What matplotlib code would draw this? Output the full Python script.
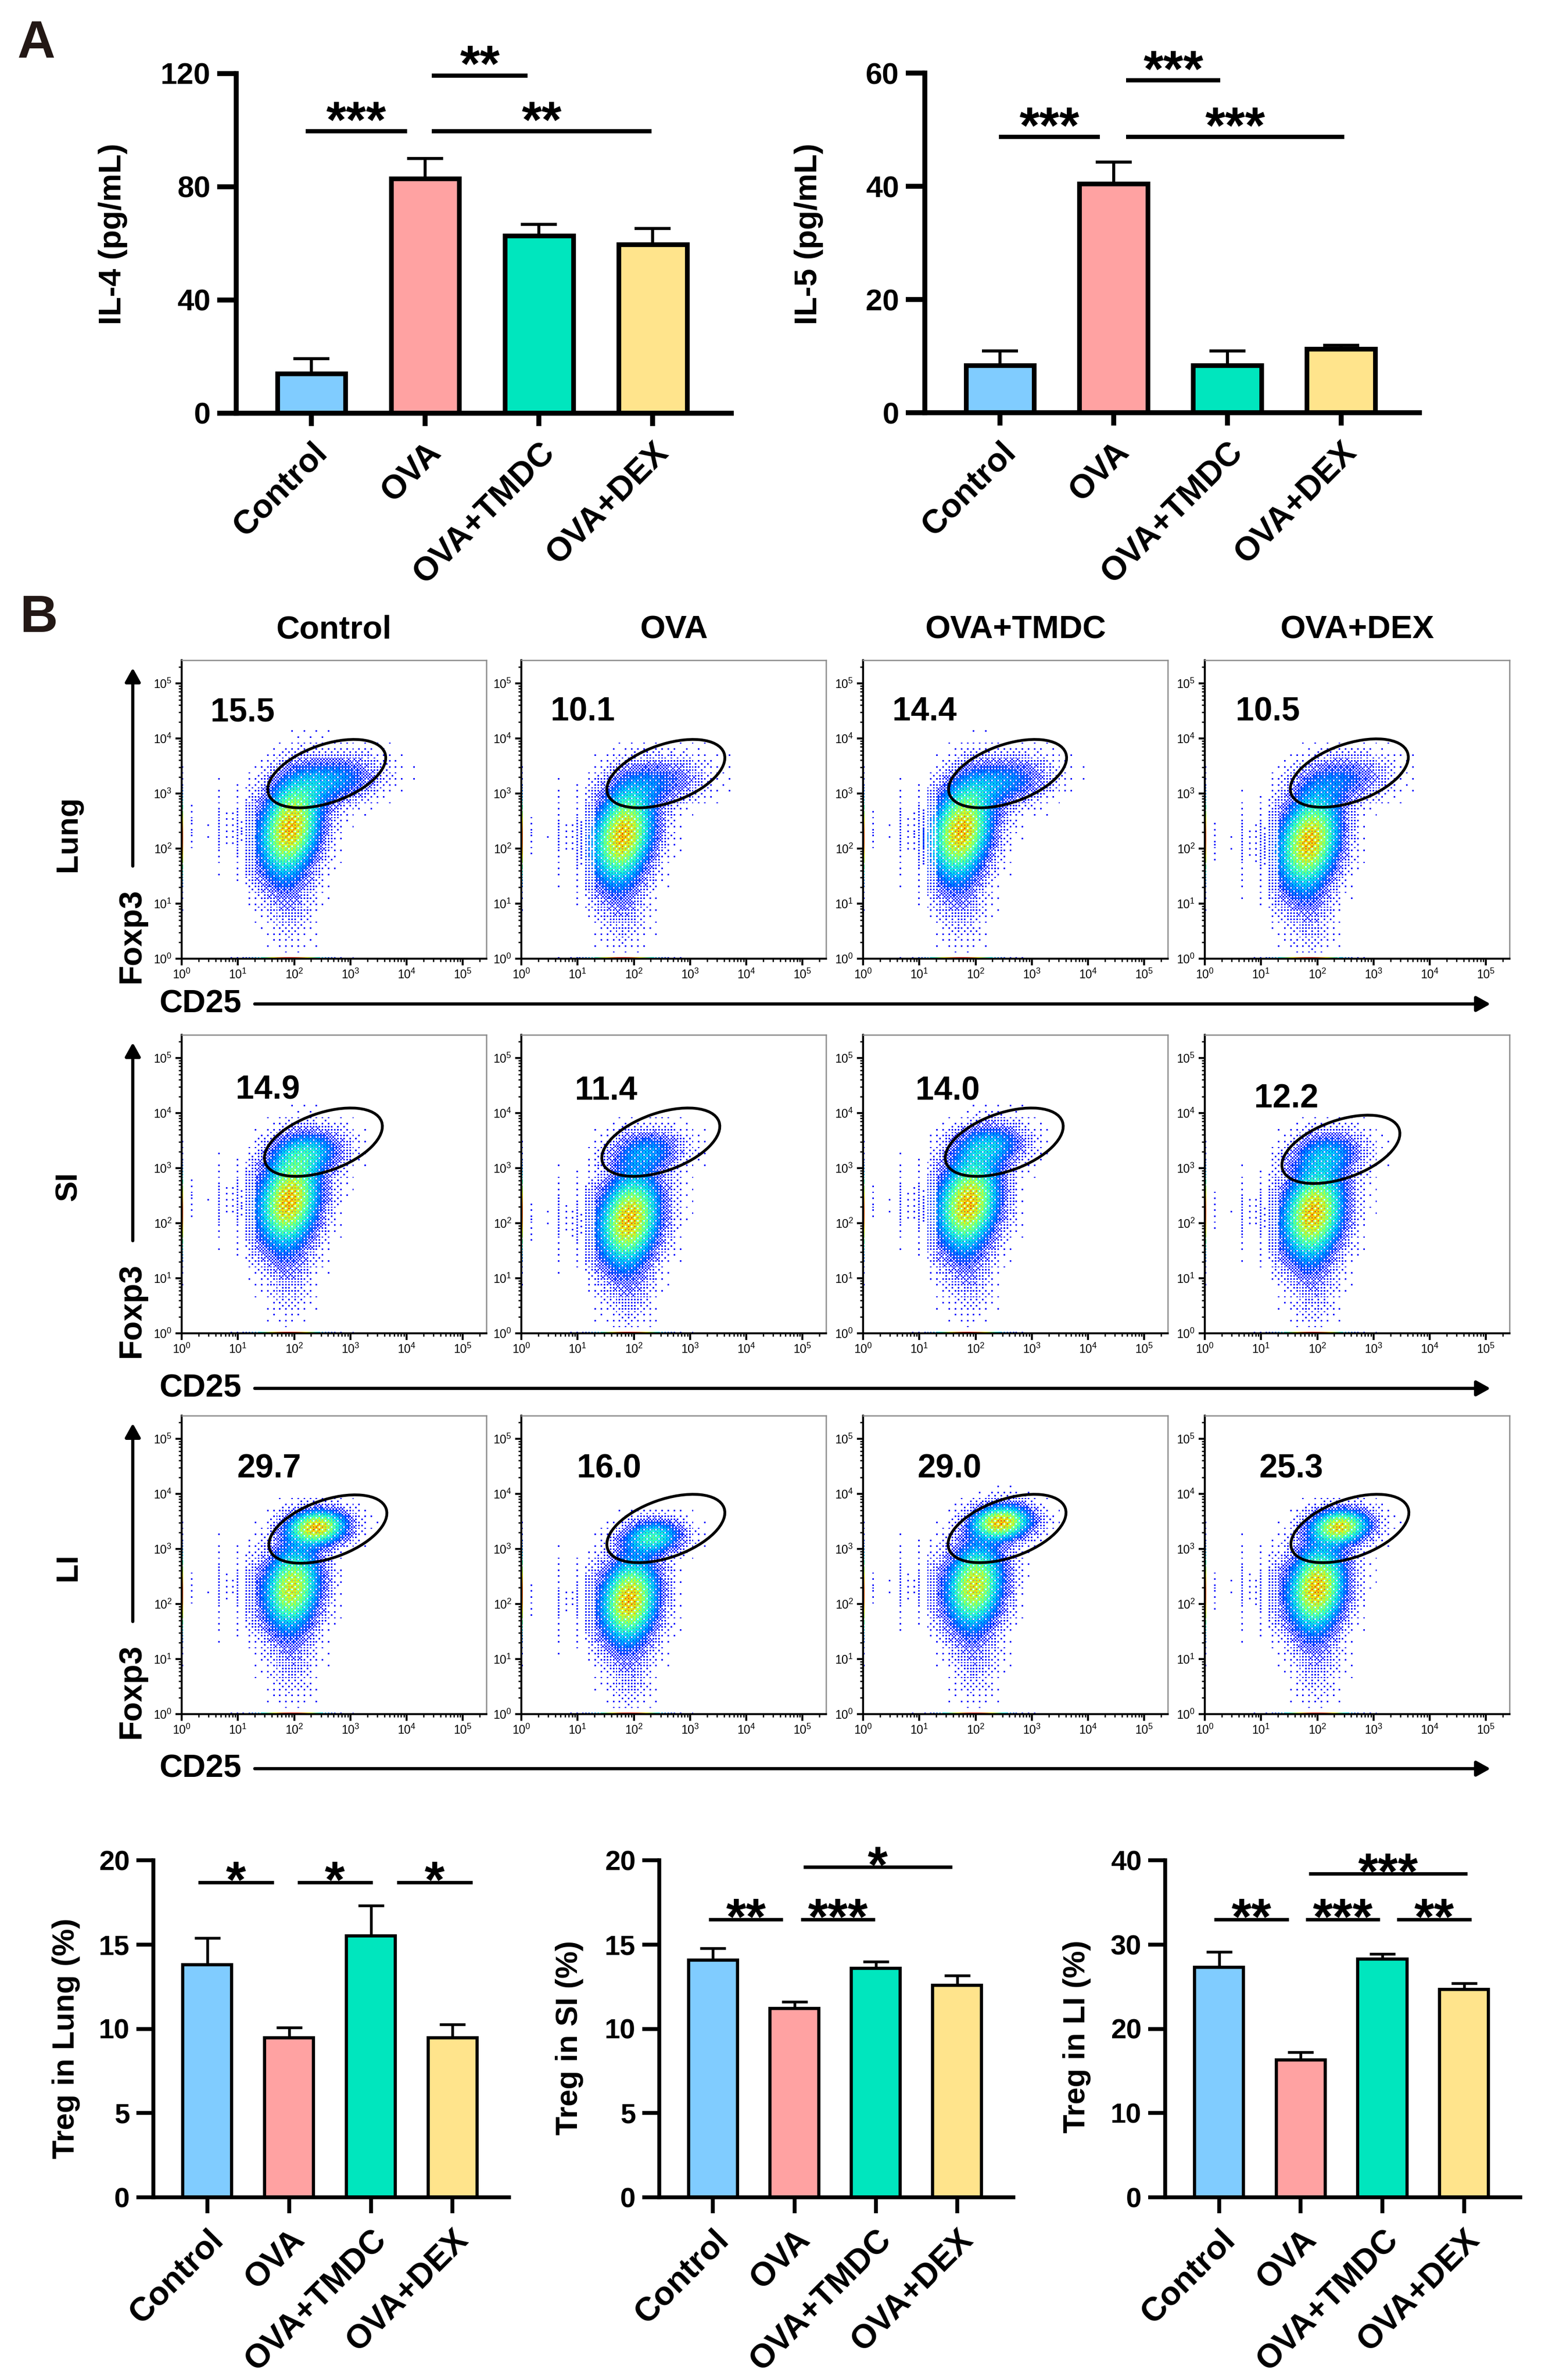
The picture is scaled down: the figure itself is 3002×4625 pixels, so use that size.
import numpy as np
import matplotlib
matplotlib.use('Agg')
import matplotlib.pyplot as plt
from matplotlib.patches import Ellipse
from matplotlib import rcParams

rcParams['font.family'] = ['Liberation Sans', 'DejaVu Sans']
rcParams['font.weight'] = 'bold'
rcParams['mathtext.default'] = 'regular'

W, H, DPI = 3002, 4625, 300

# ---------------- data ----------------
groups = ['Control', 'OVA', 'OVA+TMDC', 'OVA+DEX']
bar_colors = ['#80CCFF', '#FFA2A2', '#00E6BE', '#FFE48C']

il4_mean = [14.0, 83.0, 62.7, 59.6]
il4_sd = [5.3, 7.0, 4.0, 5.7]
il5_mean = [8.4, 40.5, 8.4, 11.3]
il5_sd = [2.5, 3.8, 2.5, 0.6]
lung_mean = [13.8, 9.47, 15.5, 9.47]
lung_sd = [1.6, 0.6, 1.8, 0.8]
si_mean = [14.07, 11.2, 13.6, 12.57]
si_sd = [0.7, 0.4, 0.4, 0.58]
li_mean = [27.3, 16.3, 28.3, 24.7]
li_sd = [1.8, 0.9, 0.6, 0.7]

# significance bars: (x start, x end, y, stars), x in group units
il4_sig = [(-0.05, 0.84, 99.6, '***'), (1.06, 1.90, 119.3, '**'), (1.06, 2.99, 99.6, '**')]
il5_sig = [(-0.01, 0.88, 48.7, '***'), (1.11, 1.94, 58.7, '***'), (1.11, 3.03, 48.7, '***')]
lung_sig = [(-0.11, 0.81, 18.7, '*'), (1.10, 2.02, 18.7, '*'), (2.32, 3.24, 18.7, '*')]
si_sig = [(-0.05, 0.86, 16.5, '**'), (1.08, 1.99, 16.5, '***'), (1.11, 2.94, 19.6, '*')]
li_sig = [(-0.06, 0.85, 33.0, '**'), (1.06, 1.97, 33.0, '***'), (2.18, 3.09, 33.0, '**'),
          (1.10, 3.04, 38.4, '***')]

# flow cytometry (log10 units)
tissues = ['Lung', 'SI', 'LI']
flow_pct = [[15.5, 10.1, 14.4, 10.5],
            [14.9, 11.4, 14.0, 12.2],
            [29.7, 16.0, 29.0, 25.3]]
main_center = [[(1.93, 2.37), (1.81, 2.24), (1.75, 2.32), (1.86, 2.13)],
               [(1.91, 2.41), (1.92, 2.07), (1.87, 2.36), (1.93, 2.18)],
               [(1.96, 2.29), (1.92, 2.07), (1.98, 2.33), (1.99, 2.29)]]
treg_center = [[(2.64, 3.23), (2.40, 3.20), (2.45, 3.20), (2.40, 3.24)],
               [(2.23, 3.28), (2.21, 3.29), (2.22, 3.40), (2.16, 3.25)],
               [(2.40, 3.39), (2.33, 3.21), (2.45, 3.48), (2.40, 3.40)]]
main_spread = [(0.31, 0.50, 0.25), (0.31, 0.48, 0.20), (0.29, 0.44, 0.15)]
treg_spread = [(0.46, 0.25, 0.20), (0.36, 0.23, 0.15), (0.30, 0.18, 0.10)]
gate_center = [[(2.58, 3.36), (2.57, 3.36), (2.57, 3.36), (2.57, 3.37)],
               [(2.52, 3.47), (2.48, 3.47), (2.51, 3.47), (2.42, 3.34)],
               [(2.60, 3.36), (2.57, 3.37), (2.56, 3.37), (2.58, 3.37)]]
pct_pos = [[(0.51, 4.47), (0.52, 4.48), (0.52, 4.48), (0.55, 4.48)],
           [(0.96, 4.41), (0.95, 4.40), (0.93, 4.40), (0.88, 4.26)],
           [(0.99, 4.45), (0.99, 4.45), (0.97, 4.45), (0.97, 4.45)]]
stripe_pos = [0.19, 0.48, 0.66, 0.79, 0.90, 0.99, 1.07, 1.14, 1.20, 1.26]

# ---------------- layout (pixels) ----------------
flow_left = [353, 1013, 1677, 2341]
flow_top = [1283, 2011, 2751]
FLOW_W, FLOW_H = 592, 580
cd25_y = [1951, 2698, 3437]
row_label_y = [1620, 2305, 3045]

LMAX = np.log10(262144)
GATE_W, GATE_H, GATE_ANGLE = 2.2, 1.05, 20

fig = plt.figure(figsize=(W / DPI, H / DPI), dpi=DPI)


def add_px_axes(x0, y0, x1, y1):
    return fig.add_axes([x0 / W, 1 - y1 / H, (x1 - x0) / W, (y1 - y0) / H])


def bar_panel(box, mean, sd, ymax, ystep, sig, st):
    ax = add_px_axes(*box)
    x = np.arange(len(groups))
    ax.errorbar(x, mean, yerr=[np.zeros(len(sd)), sd], fmt='none', ecolor='black',
                elinewidth=st['err'], capsize=st['cap'], capthick=st['err'], zorder=2)
    ax.bar(x, mean, width=0.6, color=bar_colors, edgecolor='black', linewidth=st['edge'], zorder=3)
    ax.set_xlim(-0.66, 3.69)
    ax.set_ylim(0, ymax)
    ax.set_yticks(np.arange(0, ymax + 0.1, ystep))
    ax.set_xticks(x)
    ax.set_xticklabels(groups, rotation=45, ha='right', va='top', rotation_mode='anchor',
                       fontsize=15.5)
    for s in ['top', 'right']:
        ax.spines[s].set_visible(False)
    for s in ['left', 'bottom']:
        ax.spines[s].set_linewidth(st['spine'])
        ax.spines[s].set_zorder(4)
    ax.tick_params(axis='y', length=st['ytick'], width=st['spine'], labelsize=st['tick'], pad=3)
    ax.tick_params(axis='x', length=st['xtick'], width=st['spine'], pad=5)
    for x1, x2, y, lab in sig:
        ax.plot([x1, x2], [y, y], color='black', lw=st['sig'], clip_on=False,
                solid_capstyle='butt')
        ax.annotate(lab, xy=((x1 + x2) / 2, y), xytext=(0, st['gap']),
                    textcoords='offset points', ha='center', va='baseline',
                    fontsize=st['star'], annotation_clip=False)
    return ax


style_a = dict(err=1.4, cap=8.5, edge=2.2, spine=2.3, ytick=9, xtick=6, tick=14,
               sig=2.0, star=24, gap=-2.7)
style_c = dict(err=1.3, cap=6.0, edge=1.5, spine=1.8, ytick=8, xtick=7.4, tick=13,
               sig=1.6, star=24, gap=-7.0)

bar_panel((459, 143, 1421, 803), il4_mean, il4_sd, 120, 40, il4_sig, style_a)
bar_panel((1797, 142, 2758, 802), il5_mean, il5_sd, 60, 20, il5_sig, style_a)
bar_panel((298, 3615, 989, 4270), lung_mean, lung_sd, 20, 5, lung_sig, style_c)
bar_panel((1281, 3615, 1969, 4270), si_mean, si_sd, 20, 5, si_sig, style_c)
bar_panel((2264, 3615, 2954, 4270), li_mean, li_sd, 40, 10, li_sig, style_c)

# ---------------- flow density images ----------------
NB = 200
cc = (np.arange(NB) + 0.5) * LMAX / NB
GX, GY = np.meshgrid(cc, cc)

near = np.zeros(NB, bool)
for s in stripe_pos:
    near |= np.abs(cc - s) < 0.5 * LMAX / NB * 1.05
xmask = np.where(cc < 1.3, near, True).astype(float)

# ordered (Bayer) dither matrices for the dot texture
bayer = np.array([[0, 2], [3, 1]])
while bayer.shape[0] < 8:
    bayer = np.block([[4 * bayer, 4 * bayer + 2], [4 * bayer + 3, 4 * bayer + 1]])
bayer = (bayer + 0.5) / bayer.size
dither = np.tile(bayer, (NB // 8 + 1, NB // 8 + 1))[:NB, :NB]
shade = np.roll(np.tile(bayer.T[::-1], (NB // 8 + 1, NB // 8 + 1))[:NB, :NB], 3, axis=1)
jet = plt.get_cmap('jet')


def blob(cx, cy, sx, sy, rho=0.0):
    dx = (GX - cx) / sx
    dy = (GY - cy) / sy
    q = (dx * dx - 2 * rho * dx * dy + dy * dy) / (1 - rho * rho)
    return np.exp(-0.5 * q) / (2 * np.pi * sx * sy * np.sqrt(1 - rho * rho))


def flow_image(r, c):
    mx, my = main_center[r][c]
    tx, ty = treg_center[r][c]
    msx, msy, mr = main_spread[r]
    tsx, tsy, tr = treg_spread[r]
    w_treg = flow_pct[r][c] / 100
    w_low, w_tail = 0.06, 0.04
    w_main = 1 - w_treg - w_low - w_tail
    dens = (w_main * blob(mx, my, msx, msy, mr) + w_treg * blob(tx, ty, tsx, tsy, tr)
            + w_tail * blob(mx, my - 1.1, 0.24, 0.5) + w_low * blob(0.8, my, 0.45, 0.35))
    dens *= xmask[None, :]
    d = dens / dens.max()
    d[0, :] = np.maximum(d[0, :], 0.95 * np.exp(-0.5 * ((cc - mx) / 0.35) ** 2))
    d[:, 0] = np.maximum(d[:, 0], 0.85 * np.exp(-0.5 * ((cc - 2.2) / 0.45) ** 2))
    d = np.clip(d, 0, 1)
    idx = 0.12 + 0.58 * d + 0.32 * (shade - 0.5) * np.sqrt(d)
    idx[0, :] = 0.12 + 0.8 * d[0, :]
    idx[:, 0] = 0.12 + 0.8 * d[:, 0]
    rgba = jet(np.clip(idx, 0.12, 0.95))
    cover = np.minimum(np.clip(d / 0.22, 0, 1) ** 0.9, 0.9)
    cover[0, :] = d[0, :] * 2
    cover[:, 0] = d[:, 0] * 2
    rgba[..., 3] = (cover > dither).astype(float)
    return rgba


majors = np.arange(6)
minors = [np.log10(k * 10.0 ** n) for n in range(6) for k in range(2, 10)
          if np.log10(k * 10.0 ** n) < LMAX]
major_labels = ['$10^{%d}$' % n for n in majors]

for r in range(3):
    for c in range(4):
        x0, y0 = flow_left[c], flow_top[r]
        ax = add_px_axes(x0, y0, x0 + FLOW_W, y0 + FLOW_H)
        ax.imshow(flow_image(r, c), extent=[0, LMAX, 0, LMAX], origin='lower',
                  interpolation='nearest', aspect='auto', zorder=1)
        ax.set_xlim(0, LMAX)
        ax.set_ylim(0, LMAX)
        gx, gy = gate_center[r][c]
        ax.add_patch(Ellipse((gx, gy), GATE_W, GATE_H, angle=GATE_ANGLE, fill=False,
                             lw=1.3, ec='black', zorder=3))
        px, py = pct_pos[r][c]
        ax.text(px, py, '%.1f' % flow_pct[r][c], fontsize=15.4, ha='left', va='center')
        ax.set_xticks(majors, major_labels, fontsize=5.5, fontweight='normal')
        ax.set_yticks(majors, major_labels, fontsize=5.5, fontweight='normal')
        ax.set_xticks(minors, minor=True)
        ax.set_yticks(minors, minor=True)
        ax.tick_params(which='major', length=3, width=0.9, pad=1.5)
        ax.tick_params(which='minor', length=1.5, width=0.6)
        for s in ['top', 'right']:
            ax.spines[s].set_color('#8c8c8c')
            ax.spines[s].set_linewidth(0.6)
        for s in ['left', 'bottom']:
            ax.spines[s].set_linewidth(0.9)

# ---------------- overlay text and arrows ----------------
ov = fig.add_axes([0, 0, 1, 1])
ov.set_xlim(0, W)
ov.set_ylim(H, 0)
ov.axis('off')
ov.patch.set_alpha(0)

ov.text(33, 85, 'A', fontsize=24.5, color='#231815', ha='left', va='center')
ov.text(38, 1201, 'B', fontsize=24.5, color='#231815', ha='left', va='center')

ov.text(220, 455, 'IL-4 (pg/mL)', rotation=90, fontsize=14.8, ha='center', va='center')
ov.text(1572, 455, 'IL-5 (pg/mL)', rotation=90, fontsize=14.8, ha='center', va='center')
ov.text(128, 3961, 'Treg in Lung (%)', rotation=90, fontsize=14.3, ha='center', va='center')
ov.text(1107, 3960, 'Treg in SI (%)', rotation=90, fontsize=14.3, ha='center', va='center')
ov.text(2093, 3958, 'Treg in LI (%)', rotation=90, fontsize=14.3, ha='center', va='center')

for c in range(4):
    ov.text(flow_left[c] + FLOW_W / 2, 1224, groups[c], fontsize=15.2, ha='center', va='center')

arrow = dict(arrowstyle='-|>,head_length=0.45,head_width=0.25', lw=1.5, color='black',
             shrinkA=0, shrinkB=0, mutation_scale=12)
for r in range(3):
    top, bot = flow_top[r], flow_top[r] + FLOW_H
    ov.text(133, row_label_y[r], tissues[r], rotation=90, fontsize=14.5, ha='center', va='center')
    ov.text(255, bot - 45, 'Foxp3', rotation=90, fontsize=15, ha='center', va='center')
    ov.annotate('', xy=(258, top + 15), xytext=(258, bot - 180), arrowprops=arrow)
    ov.text(309, cd25_y[r], 'CD25', fontsize=15, ha='left', va='center')
    ov.annotate('', xy=(2896, cd25_y[r]), xytext=(495, cd25_y[r]), arrowprops=arrow)

fig.savefig('out.png', dpi=DPI)
